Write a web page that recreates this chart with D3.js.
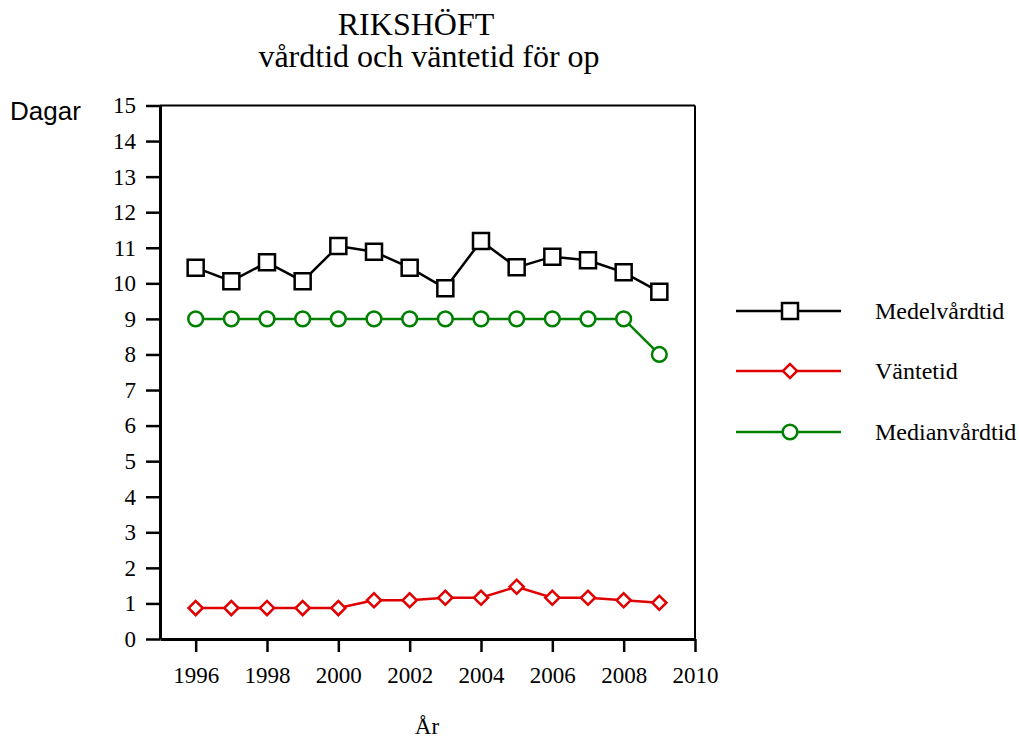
<!DOCTYPE html>
<html>
<head>
<meta charset="utf-8">
<script src="https://cdn.jsdelivr.net/npm/d3@7"></script>
<style>
  body { margin: 0; background: #fff; }
  svg text { font-family: "Liberation Serif", "Times New Roman", serif; fill: #000; }
</style>
</head>
<body>
<svg id="chart" width="1019" height="740"></svg>
<script>
// data
var years = [1996, 1997, 1998, 1999, 2000, 2001, 2002, 2003, 2004, 2005, 2006, 2007, 2008, 2009];
var medelvardtid = [10.44, 10.06, 10.59, 10.06, 11.05, 10.89, 10.44, 9.86, 11.19, 10.45, 10.75, 10.65, 10.31, 9.76];
var vantetid = [0.87, 0.87, 0.87, 0.87, 0.87, 1.09, 1.09, 1.16, 1.16, 1.47, 1.16, 1.16, 1.09, 1.02];
var medianvardtid = [9, 9, 9, 9, 9, 9, 9, 9, 9, 9, 9, 9, 9, 8];
var xTicks = [1996, 1998, 2000, 2002, 2004, 2006, 2008, 2010];
var yTicks = d3.range(0, 16);

var series = [
    { name: 'Medelvårdtid', values: medelvardtid, color: '#000000', symbol: 'square' },
    { name: 'Väntetid', values: vantetid, color: '#e00000', symbol: 'diamond' },
    { name: 'Medianvårdtid', values: medianvardtid, color: '#008000', symbol: 'circle' }
];

var svg = d3.select('#chart');

var plotLeft = 160, plotRight = 695, plotTop = 105.5, plotBottom = 639;

var x = d3.scaleLinear().domain([1995, 2010]).range([plotLeft, plotRight]);
var y = d3.scaleLinear().domain([0, 15]).range([plotBottom, plotTop]);

// title
svg.append('text').attr('x', 416).attr('y', 35).attr('text-anchor', 'middle')
    .style('font-size', '32px').text('RIKSHÖFT');
svg.append('text').attr('x', 429).attr('y', 67).attr('text-anchor', 'middle')
    .style('font-size', '32px').text('vårdtid och väntetid för op');

// frame
svg.append('line').attr('x1', plotLeft).attr('x2', plotRight).attr('y1', plotTop).attr('y2', plotTop)
    .attr('stroke', '#000').attr('stroke-width', 2);
svg.append('line').attr('x1', plotRight).attr('x2', plotRight).attr('y1', plotTop).attr('y2', plotBottom)
    .attr('stroke', '#000').attr('stroke-width', 2);

// y axis
var yAxis = svg.append('g')
    .attr('transform', 'translate(' + plotLeft + ',0)')
    .call(d3.axisLeft(y).tickValues(yTicks).tickSize(14).tickPadding(10).tickSizeOuter(0));
yAxis.select('.domain').attr('stroke-width', 3);
yAxis.selectAll('.tick line').attr('stroke-width', 2.5);
yAxis.selectAll('.tick text').style('font-size', '23px')
    .style('font-family', '"Liberation Serif", serif').attr('fill', '#000');

// x axis
var xAxis = svg.append('g')
    .attr('transform', 'translate(0,' + plotBottom + ')')
    .call(d3.axisBottom(x).tickValues(xTicks).tickFormat(d3.format('d')).tickSize(13).tickPadding(15).tickSizeOuter(0));
xAxis.select('.domain').attr('stroke-width', 3);
xAxis.selectAll('.tick line').attr('stroke-width', 2.5);
xAxis.selectAll('.tick text').style('font-size', '23px')
    .style('font-family', '"Liberation Serif", serif').attr('fill', '#000');

// axis titles
svg.append('text').attr('x', 10).attr('y', 120)
    .style('font-family', '"Liberation Sans", Arial, sans-serif').style('font-size', '26px')
    .text('Dagar');
svg.append('text').attr('x', 427).attr('y', 734).attr('text-anchor', 'middle')
    .style('font-size', '23px').text('År');

var symbols = {
    square: d3.symbol().type(d3.symbolSquare).size(256),
    diamond: d3.symbol().type(d3.symbolSquare).size(100),
    circle: d3.symbol().type(d3.symbolCircle).size(170)
};

function drawMarker(g, s, px, py) {
    var p = g.append('path')
        .attr('d', symbols[s.symbol]())
        .attr('fill', '#fff')
        .attr('stroke', s.color)
        .attr('stroke-width', 2.5);
    if (s.symbol === 'diamond') p.attr('transform', 'translate(' + px + ',' + py + ') rotate(45)');
    else p.attr('transform', 'translate(' + px + ',' + py + ')');
}

var line = d3.line()
    .x(function (d) { return x(d[0]); })
    .y(function (d) { return y(d[1]); });

series.forEach(function (s) {
    var pts = years.map(function (yr, i) { return [yr, s.values[i]]; });
    var g = svg.append('g');
    g.append('path').attr('d', line(pts)).attr('fill', 'none')
        .attr('stroke', s.color).attr('stroke-width', 2.5);
    pts.forEach(function (p) { drawMarker(g, s, x(p[0]), y(p[1])); });
});

// legend
var legendY = [311, 371, 432];
series.forEach(function (s, i) {
    var g = svg.append('g');
    g.append('line').attr('x1', 736).attr('x2', 841).attr('y1', legendY[i]).attr('y2', legendY[i])
        .attr('stroke', s.color).attr('stroke-width', 2.5);
    drawMarker(g, s, 790, legendY[i]);
    g.append('text').attr('x', 875).attr('y', legendY[i] + 8)
        .style('font-size', '24px').text(s.name);
});
</script>
</body>
</html>
